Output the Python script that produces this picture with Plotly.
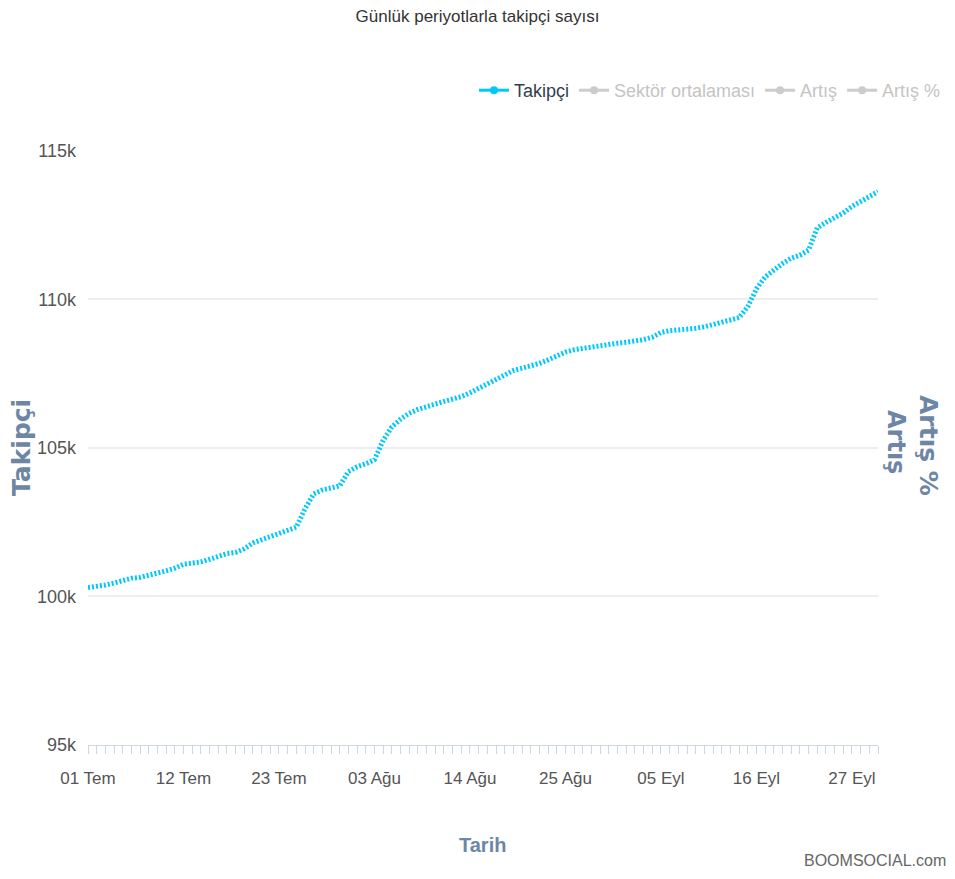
import datetime as dt
import plotly.graph_objects as go

# Daily follower counts, 1 July - 30 September
start_date = dt.date(2020, 7, 1)
followers = [
    100300, 100330, 100380, 100450, 100540, 100610, 100640, 100700, 100780, 100860,
    100950, 101080, 101120, 101160, 101250, 101360, 101440, 101480, 101600, 101800,
    101900, 101990, 102100, 102220, 102330, 102950, 103450, 103580, 103650, 103720,
    104200, 104360, 104460, 104600, 105250, 105700, 105960, 106160, 106290, 106390,
    106480, 106560, 106640, 106720, 106850, 107000, 107150, 107300, 107450, 107600,
    107680, 107740, 107840, 107960, 108100, 108220, 108300, 108350, 108400, 108450,
    108490, 108520, 108550, 108590, 108640, 108720, 108880, 108940, 108960, 108980,
    109020, 109070, 109140, 109200, 109270, 109380, 109750, 110350, 110750, 111000,
    111200, 111380, 111480, 111650, 112400, 112580, 112720, 112900, 113120, 113300,
    113450, 113620,
]
dates = [start_date + dt.timedelta(days=i) for i in range(len(followers))]

x_tick_days = [0, 11, 22, 33, 44, 55, 66, 77, 88]
x_tick_labels = ["01 Tem", "12 Tem", "23 Tem", "03 Ağu", "14 Ağu", "25 Ağu", "05 Eyl", "16 Eyl", "27 Eyl"]
y_tick_values = [95000, 100000, 105000, 110000, 115000]
y_tick_labels = ["95k", "100k", "105k", "110k", "115k"]

series_names = ["Takipçi", "Sektör ortalaması", "Artış", "Artış %"]

FONT = "Liberation Sans, Arial, sans-serif"
CYAN = "#00c8fa"
TITLE_BLUE = "#6d86a6"

fig = go.Figure()

# Main series drawn as a fine dotted line
fig.add_trace(go.Scatter(
    x=dates, y=followers, mode="lines", showlegend=False,
    line=dict(color=CYAN, width=5, dash="2px,2px"),
    hoverinfo="x+y",
))

# Legend entries
fig.add_trace(go.Scatter(
    x=[None], y=[None], mode="lines+markers", name=series_names[0],
    line=dict(color=CYAN, width=3), marker=dict(color=CYAN, size=8),
))
for nm in series_names[1:]:
    fig.add_trace(go.Scatter(
        x=[None], y=[None], mode="lines+markers",
        name=f"<span style='color:#c4c4c4'>{nm}</span>",
        line=dict(color="#cccccc", width=3), marker=dict(color="#cccccc", size=8),
    ))

fig.update_layout(
    width=955, height=879,
    margin=dict(l=88, r=77, t=150, b=134, autoexpand=False),
    paper_bgcolor="white", plot_bgcolor="white",
    font=dict(family=FONT, size=17, color="#555555"),
    title=dict(text="Günlük periyotlarla takipçi sayısı", x=0.5, xanchor="center",
               y=1 - 16 / 879, yanchor="middle", yref="container",
               font=dict(family=FONT, size=17, color="#333333")),
    legend=dict(orientation="h", x=(946 - 88) / 790, xanchor="right", y=1.1, yanchor="middle",
                font=dict(family=FONT, size=18, color="#2f3e50"),
                itemwidth=30, tracegroupgap=0, bgcolor="rgba(0,0,0,0)"),
    showlegend=True,
)

fig.update_xaxes(
    type="date",
    range=[start_date, start_date + dt.timedelta(days=91.45)],
    tickvals=[start_date + dt.timedelta(days=d) for d in x_tick_days],
    ticktext=x_tick_labels,
    ticks="outside", ticklen=8, tickcolor="#ccd6eb", tickwidth=1,
    minor=dict(ticks="outside", ticklen=8, tickcolor="#ccd6eb", tickwidth=1,
               dtick=86400000, tick0=start_date, showgrid=False),
    showline=True, linecolor="#ccd6eb", linewidth=1,
    showgrid=False, zeroline=False,
    tickfont=dict(family=FONT, size=17, color="#555555"),
    ticklabelstandoff=10,
)
fig.update_yaxes(
    range=[95000, 115020],
    tickvals=y_tick_values, ticktext=y_tick_labels,
    showgrid=True, gridcolor="#eeeeee", gridwidth=2,
    zeroline=False, showline=False, ticks="",
    tickfont=dict(family=FONT, size=18, color="#555555"),
    ticklabelstandoff=11,
)

# Axis titles
fig.add_annotation(text="<b>Takipçi</b>", textangle=-90, xref="paper", yref="paper",
                   x=(21 - 88) / 790, y=(745 - 448) / 595, xanchor="center", yanchor="middle",
                   showarrow=False, font=dict(family="DejaVu Sans", size=25, color=TITLE_BLUE))
fig.add_annotation(text="<b>Artış</b>", textangle=90, xref="paper", yref="paper",
                   x=(896 - 88) / 790, y=(745 - 442) / 595, xanchor="center", yanchor="middle",
                   showarrow=False, font=dict(family="DejaVu Sans", size=24, color=TITLE_BLUE))
fig.add_annotation(text="<b>Artış %</b>", textangle=90, xref="paper", yref="paper",
                   x=(929 - 88) / 790, y=(745 - 446) / 595, xanchor="center", yanchor="middle",
                   showarrow=False, font=dict(family="DejaVu Sans", size=25, color=TITLE_BLUE))
fig.add_annotation(text="<b>Tarih</b>", xref="paper", yref="paper",
                   x=(482 - 88) / 790, y=(745 - 845) / 595, xanchor="center", yanchor="middle",
                   showarrow=False, font=dict(family=FONT, size=20, color=TITLE_BLUE))
fig.add_annotation(text="BOOMSOCIAL.com", xref="paper", yref="paper",
                   x=(948 - 88) / 790, y=(745 - 860) / 595, xanchor="right", yanchor="middle",
                   showarrow=False, font=dict(family=FONT, size=16, color="#666666"))

fig.write_html("out.html")
